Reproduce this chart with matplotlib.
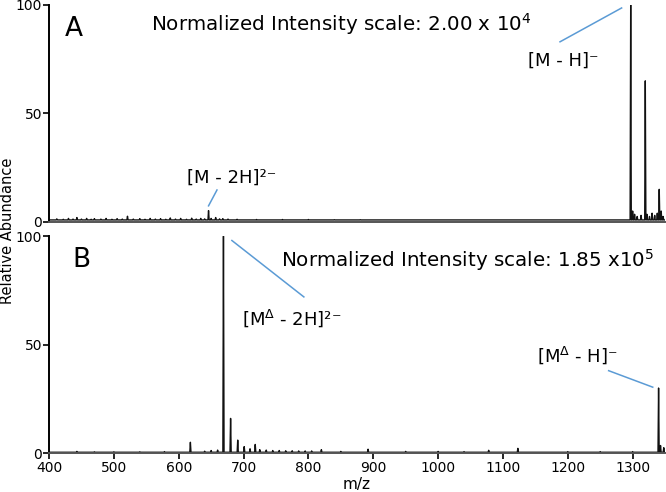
import numpy as np
import matplotlib
matplotlib.use("Agg")
import matplotlib.pyplot as plt

plt.rcParams["font.family"] = "DejaVu Sans"
plt.rcParams["mathtext.fontset"] = "dejavusans"

# ---------------------------------------------------------------------------
# Data (peak m/z and relative abundance)
# ---------------------------------------------------------------------------
MZ_MIN, MZ_MAX = 400, 1350

mz_a = [412, 422, 430, 437, 443, 450, 458, 465, 470, 480, 488, 497, 505, 513,
        521, 530, 540, 548, 556, 564, 572, 580, 587, 595, 603, 612, 620, 627,
        634, 640, 646, 650, 657, 663, 668, 676, 690, 720, 760, 800, 840, 880,
        1297, 1300, 1303, 1307, 1313, 1319.5, 1322, 1326, 1330, 1334, 1338,
        1341, 1344, 1347]
ab_a = [1.4, 1.2, 1.6, 1.3, 2.0, 1.3, 1.6, 1.2, 1.5, 1.3, 1.6, 1.2, 1.5, 1.3,
        2.6, 1.3, 1.5, 1.2, 1.6, 1.3, 1.5, 1.2, 1.8, 1.3, 1.6, 1.2, 1.7, 1.3,
        1.6, 1.4, 5.2, 1.6, 2.0, 1.4, 1.5, 1.3, 1.2, 1.1, 1.1, 1.1, 1.0, 1.0,
        100, 5, 3.5, 2.5, 3, 65, 3.5, 2.5, 4, 3, 4, 15, 5, 2.5]

mz_b = [443, 470, 500, 540, 578, 618, 640, 650, 660, 669, 680, 691, 701, 710,
        718, 725, 735, 745, 755, 765, 775, 785, 795, 805, 820, 850, 892, 950,
        1000, 1040, 1078, 1123, 1200, 1250, 1300, 1340, 1343, 1348]
ab_b = [0.8, 0.6, 0.6, 0.6, 0.7, 5, 0.9, 1.2, 1.4, 100, 16, 6, 3, 2, 4, 1.6,
        1.4, 1.2, 1.2, 1.1, 1.1, 1.0, 1.0, 1.0, 1.6, 0.8, 1.8, 0.8, 0.8, 0.7,
        1.3, 2.2, 0.7, 0.7, 0.7, 30, 3.5, 2.5]

x_ticks = [400, 500, 600, 700, 800, 900, 1000, 1100, 1200, 1300]
y_ticks = [0, 50, 100]

scale_a = r"Normalized Intensity scale: 2.00 x 10$^{\mathregular{4}}$"
scale_b = r"Normalized Intensity scale: 1.85 x10$^{\mathregular{5}}$"

LINE_BLUE = "#5b9bd5"


def profile(mz, ab, base, w=0.9):
    """Turn stick peaks into a continuous spectrum trace."""
    xs, ys = [MZ_MIN], [base]
    for m, v in sorted(zip(mz, ab)):
        xs += [m - w, m, m + w]
        ys += [base, v, base]
    xs.append(MZ_MAX)
    ys.append(base)
    return np.array(xs), np.array(ys)


def style_axis(ax):
    ax.set_xlim(MZ_MIN, MZ_MAX)
    ax.set_ylim(0, 100)
    ax.spines["top"].set_visible(False)
    ax.spines["right"].set_visible(False)
    ax.spines["left"].set_linewidth(1.4)
    ax.spines["bottom"].set_linewidth(1.4)
    ax.spines["bottom"].set_color("#555555")
    ax.set_yticks(y_ticks)
    ax.tick_params(axis="y", direction="out", length=4, width=1.2, labelsize=10, pad=1)
    ax.set_xticks(x_ticks)


fig = plt.figure(figsize=(6.66, 4.92), dpi=100)
ax_a = fig.add_axes([0.0736, 0.549, 0.925, 0.441])
ax_b = fig.add_axes([0.0736, 0.079, 0.925, 0.441])

# --- Panel A ---
xa, ya = profile(mz_a, ab_a, base=0.9)
ax_a.plot(xa, ya, color="#111111", lw=1.0)
style_axis(ax_a)
ax_a.tick_params(axis="x", length=0, labelbottom=False)
ax_a.text(424, 85.5, "A", fontsize=19)
ax_a.text(557, 88, scale_a, fontsize=14.3)
ax_a.plot([1188, 1283], [83, 98.6], color=LINE_BLUE, lw=1.1)
ax_a.text(1139, 72, "[M - H]\u207b", fontsize=13)
ax_a.plot([646, 659], [7.4, 14.7], color=LINE_BLUE, lw=1.1)
ax_a.text(613, 18, "[M - 2H]\u00b2\u207b", fontsize=13)

# --- Panel B ---
xb, yb = profile(mz_b, ab_b, base=0.4)
ax_b.plot(xb, yb, color="#111111", lw=1.0)
style_axis(ax_b)
ax_b.tick_params(axis="x", direction="out", length=4, width=1.2, labelsize=10, pad=2)
ax_b.text(436, 86, "B", fontsize=19)
ax_b.text(757, 86, scale_b, fontsize=14.3)
ax_b.plot([682, 793], [98, 72], color=LINE_BLUE, lw=1.1)
ax_b.text(697, 59, r"[M$^{\mathregular{\Delta}}$ - 2H]" + "\u00b2\u207b", fontsize=13)
ax_b.plot([1263, 1331], [38, 30.4], color=LINE_BLUE, lw=1.1)
ax_b.text(1152, 42, r"[M$^{\mathregular{\Delta}}$ - H]" + "\u207b", fontsize=13)
ax_b.set_xlabel("m/z", fontsize=11, labelpad=1)

fig.text(0.012, 0.53, "Relative Abundance", rotation=90, fontsize=10.5,
         ha="center", va="center")

fig.savefig("out.png", dpi=100)
